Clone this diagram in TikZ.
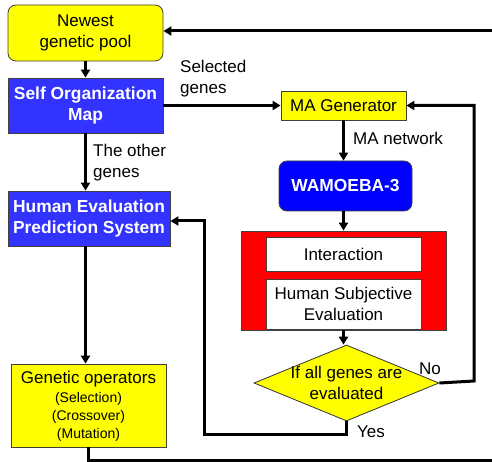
\documentclass[tikz,border=0pt]{standalone}
\usepackage{fontspec}
\setmainfont{Liberation Sans}
\usetikzlibrary{shapes.geometric,arrows.meta}
\definecolor{ylw}{RGB}{255,255,0}
\definecolor{somblue}{RGB}{51,51,255}
\definecolor{wamblue}{RGB}{0,0,255}
\definecolor{rd}{RGB}{255,0,0}
\begin{document}
\begin{tikzpicture}[x=1pt,y=-1pt,
  font=\fontsize{17}{21}\selectfont,
  box/.style={draw=black!75, line width=0.8pt, inner sep=0pt, align=center},
  ybox/.style={box, fill=ylw},
  bbox/.style={box, fill=somblue, text=white, font=\fontsize{17.4}{21}\selectfont\bfseries},
  wbox/.style={box, fill=white},
  lbl/.style={inner sep=0pt, align=left, anchor=west},
  arr/.style={line width=3pt, -{Triangle[length=8pt,width=9pt]}},
  ln/.style={line width=3pt}]
\useasboundingbox (0,0) rectangle (492,462);

% nodes
\node[ybox, rounded corners=8pt, minimum width=155pt, minimum height=56pt] (pool) at (85.5,33) {Newest\\genetic pool};
\node[bbox, minimum width=155pt, minimum height=55pt] (som) at (85.5,105.5) {Self Organization\\Map};
\node[bbox, minimum width=162pt, minimum height=55pt] (heps) at (89,218.5) {Human Evaluation\\Prediction System};
\node[ybox, minimum width=155pt, minimum height=83pt] (go) at (88.5,405.5) {};
\node[inner sep=0pt, align=center] (gotxt) at (88.5,406) {Genetic operators\\[-2pt]{\fontsize{14}{17}\selectfont (Selection)}\\[-3pt]{\fontsize{14}{17}\selectfont (Crossover)}\\[-3pt]{\fontsize{14}{17}\selectfont (Mutation)}};
\node[ybox, minimum width=125pt, minimum height=29pt] (mag) at (343.5,105.5) {MA Generator};
\node[bbox, fill=wamblue, rounded corners=8pt, minimum width=133pt, minimum height=50pt] (wam) at (345.5,186) {WAMOEBA-3};
\node[box, fill=rd, minimum width=205pt, minimum height=99pt] (red) at (343.5,280.5) {};
\node[wbox, minimum width=155pt, minimum height=34pt] (inter) at (343.5,254) {Interaction};
\node[wbox, minimum width=155pt, minimum height=50pt] (hse) at (343.5,304) {Human Subjective\\Evaluation};
\node[diamond, draw=black!80, line width=0.8pt, fill=ylw, inner sep=0pt, minimum width=185pt, minimum height=76pt] (dia) at (346.5,383) {};
\node[inner sep=0pt, align=center] (diatxt) at (346.5,383) {If all genes are\\evaluated};

% coordinates
\coordinate (tr) at (492,31);
\coordinate (br) at (492,460.5);
\coordinate (nocorner) at (474,381);
\coordinate (yescorner) at (204,434);

% labels
\node[lbl] (lother) at (93,163) {The other\\genes};
\node[lbl] (lsel) at (180,79) {Selected\\genes};
\node[lbl] (lman) at (353,138) {MA network};
\node[lbl] (lno) at (419,369) {No};
\node[lbl] (lyes) at (357,432) {Yes};

% connectors
\draw[arr] (tr) -- (tr -| pool.east);
\draw[arr] (pool.south) -- (som.north);
\draw[arr] (som.south) -- (som.south |- heps.north);
\draw[arr] (som.south |- heps.south) -- (som.south |- go.north);
\draw[ln] (go.south) -- (go.south |- br) -- (br);
\draw[arr] (som.east) -- (mag.west);
\draw[arr] (mag.south) -- (mag.south |- wam.north);
\draw[arr] (mag.south |- wam.south) -- (mag.south |- red.north);
\draw[arr] (red.south) -- (red.south |- dia.north);
\draw[arr] (dia.east) -- (nocorner) -- (nocorner |- mag.east) -- (mag.east);
\draw[arr] (dia.south) -- (dia.south |- yescorner) -- (yescorner) -- (yescorner |- 0,221) -- (heps.east |- 0,221);
\end{tikzpicture}
\end{document}
